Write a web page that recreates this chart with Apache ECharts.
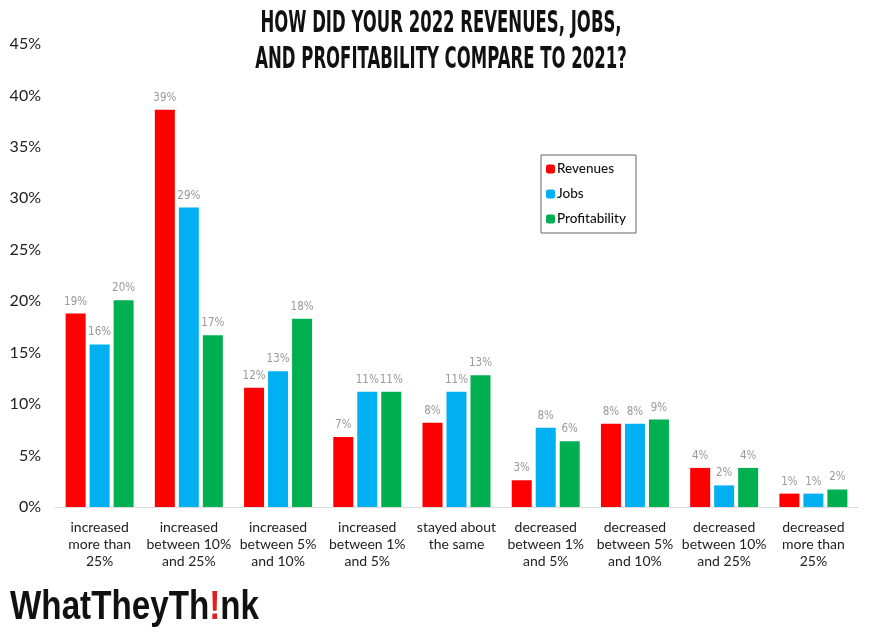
<!DOCTYPE html>
<html><head><meta charset="utf-8">
<script src="https://cdn.jsdelivr.net/npm/echarts@6/dist/echarts.min.js"></script>
<style>html,body{margin:0;padding:0;background:#fff}#c{width:879px;height:639px}</style>
</head><body><div id="c"></div>
<script>
const categories = ["increased\nmore than\n25%","increased\nbetween 10%\nand 25%","increased\nbetween 5%\nand 10%","increased\nbetween 1%\nand 5%","stayed about\nthe same","decreased\nbetween 1%\nand 5%","decreased\nbetween 5%\nand 10%","decreased\nbetween 10%\nand 25%","decreased\nmore than\n25%"];
const revenues = [18.8, 38.6, 11.6, 6.8, 8.2, 2.6, 8.1, 3.8, 1.3];
const jobs = [15.8, 29.1, 13.2, 11.2, 11.2, 7.7, 8.1, 2.1, 1.3];
const profitability = [20.1, 16.7, 18.3, 11.2, 12.8, 6.4, 8.5, 3.8, 1.7];
const yTicks = [0,5,10,15,20,25,30,35,40,45];
const titleLines = ['HOW DID YOUR 2022 REVENUES, JOBS,', 'AND PROFITABILITY COMPARE TO 2021?'];

const chart = echarts.init(document.getElementById('c'));
const lbl = {show:true, position:'top', distance:6, color:'#999', fontSize:11.5, fontFamily:'Liberation Sans Narrow, DejaVu Sans Condensed, sans-serif', formatter: p => Math.round(p.value) + '%'};
function s(name, data, color){return {name, type:'bar', data, barWidth:20, barGap:'20%', itemStyle:{color}, label:lbl};}
const tStyle = {fontFamily:'DejaVu Sans, sans-serif', fontWeight:'bold', fontSize:30, fill:'#111', textAlign:'center', textVerticalAlign:'middle'};
chart.setOption({
  animation:false,
  legend:{orient:'vertical', left:541, top:155, itemWidth:9, itemHeight:9, itemGap:11, padding:[7,10,7,5], borderColor:'#666', borderWidth:1,
    textStyle:{fontSize:13.5, color:'#111', fontWeight:500, fontFamily:'Lato, Noto Sans, sans-serif', padding:[0,0,0,-3]},
    data:['Revenues','Jobs','Profitability']},
  grid:{left:55, right:21, top:44, bottom:132},
  xAxis:{type:'category', data:categories, axisTick:{show:false}, axisLine:{lineStyle:{color:'#ddd'}},
    axisLabel:{interval:0, color:'#222', fontSize:14, lineHeight:17, margin:12, fontFamily:'Lato, Noto Sans, sans-serif'}},
  yAxis:{type:'value', min:0, max:45, interval:5, splitLine:{show:false}, axisLine:{show:false},
    axisLabel:{color:'#222', fontSize:16, margin:14, fontFamily:'Lato, Noto Sans, sans-serif', formatter: v => yTicks.includes(v) ? v + '%' : ''}},
  series:[s('Revenues', revenues, '#ff0000'), s('Jobs', jobs, '#00b0f0'), s('Profitability', profitability, '#00b050')],
  graphic:[
    {type:'text', x:441, y:24, scaleX:0.55, style:Object.assign({text:titleLines[0]}, tStyle)},
    {type:'text', x:441, y:60, scaleX:0.55, style:Object.assign({text:titleLines[1]}, tStyle)},
    {type:'text', x:10, y:608, scaleX:0.81, style:{textVerticalAlign:'middle', rich:{a:{fontSize:41, fontWeight:'bold', fill:'#111', fontFamily:'Liberation Sans, sans-serif'}, b:{fontSize:41, fontWeight:'bold', fill:'#e02020', fontFamily:'Liberation Sans, sans-serif'}}, text:'{a|WhatTheyTh}{b|!}{a|nk}'}}
  ]
});
</script></body></html>
